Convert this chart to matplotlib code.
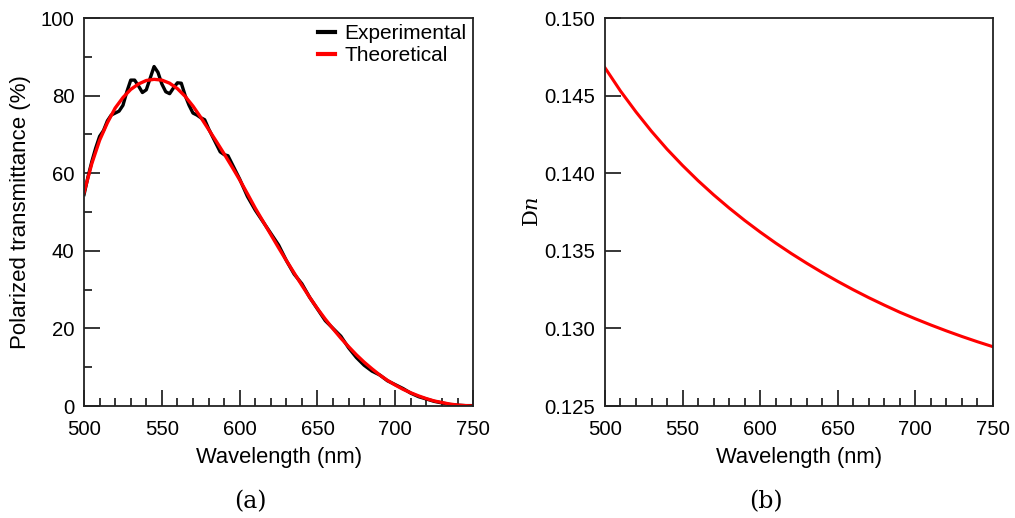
import matplotlib.pyplot as plt
import numpy as np
from matplotlib.ticker import MultipleLocator

plt.rcParams['font.family'] = ['Liberation Sans', 'DejaVu Sans']
plt.rcParams['mathtext.fontset'] = 'dejavuserif'

# experimental polarized transmittance (%)
exp_wl = [500, 502.5, 505, 507.5, 510, 512.5, 515, 517.5, 520, 522.5, 525, 527.5,
          530, 532.5, 535, 537.5, 540, 542.5, 545, 547.5, 550, 552.5, 555, 557.5,
          560, 562.5, 565, 567.5, 570, 572.5, 575, 577.5, 580, 582.5, 585, 587.5,
          590, 592.5, 595, 597.5, 600,
          605, 610, 615, 620, 625, 630, 635, 640, 645, 650, 655, 660, 665, 670,
          675, 680, 685, 690, 695, 700, 705, 710, 715, 720, 725, 730, 735, 740,
          745, 750]
exp_t = [54.5, 59, 63, 66.5, 69.5, 71, 73.5, 75, 75.5, 76, 77.5, 81,
         84, 84, 82.5, 80.8, 81.5, 84.5, 87.5, 86, 83, 81, 80.5, 82,
         83.3, 83.2, 80, 77.5, 75.5, 75, 74.3, 73.8, 71.5, 69.5, 67.5, 65.5,
         64.8, 64.5, 62.5, 60.5, 58.5,
         54, 50.5, 47.5, 44.5, 41.5, 37.5, 34, 31.5, 28, 25, 22, 20, 18, 15,
         12.5, 10.5, 9, 8, 6.5, 5.5, 4.5, 3.3, 2.4, 1.8, 1.2, 0.8, 0.4, 0.2,
         0.1, 0.1]

# theoretical transmittance (%)
th_wl = list(range(500, 755, 5))
th_t = [55.0, 62.5, 68.5, 73.0, 76.8, 79.5, 81.6, 83.0, 83.9, 84.2, 84.0,
        83.2, 81.8, 79.8, 77.3, 74.4, 71.3, 68.2, 65.0, 61.7, 58.3,
        54.7, 51.0, 47.6, 44.2, 40.8, 37.5, 34.3, 31.1, 28.0, 25.1,
        22.4, 19.9, 17.5, 15.3, 13.2, 11.3, 9.6, 8.0, 6.6, 5.4,
        4.3, 3.4, 2.6, 1.9, 1.3, 0.9, 0.5, 0.25, 0.1, 0.0]

# birefringence
dn_wl = list(range(500, 760, 10))
dn = [0.14680, 0.14530, 0.14395, 0.14270, 0.14155, 0.14050, 0.13952, 0.13861,
      0.13776, 0.13696, 0.13621, 0.13550, 0.13483, 0.13420, 0.13360, 0.13303,
      0.13249, 0.13198, 0.13150, 0.13104, 0.13062, 0.13022, 0.12984, 0.12948,
      0.12914, 0.12882]

fig = plt.figure(figsize=(10.15, 5.18), dpi=100)
ax1 = fig.add_axes([0.0828, 0.2162, 0.3833, 0.749])
ax2 = fig.add_axes([0.596, 0.2162, 0.3823, 0.749])

ax1.plot(exp_wl, exp_t, color='black', lw=2.4, label='Experimental')
ax1.plot(th_wl, th_t, color='red', lw=2.4, label='Theoretical')
ax1.set_xlim(500, 750)
ax1.set_ylim(0, 100)
ax1.yaxis.set_major_locator(MultipleLocator(20))
ax1.yaxis.set_minor_locator(MultipleLocator(10))
ax1.set_ylabel('Polarized transmittance (%)', fontsize=16, labelpad=7)
leg = ax1.legend(loc='upper right', frameon=False, fontsize=15, handlelength=0.85,
                 handletextpad=0.45, borderaxespad=0.0, borderpad=0.3,
                 labelspacing=0.15)
for h in leg.legend_handles:
    h.set_linewidth(3)

ax2.plot(dn_wl, dn, color='red', lw=2.2)
ax2.set_xlim(500, 750)
ax2.set_ylim(0.125, 0.150)
ax2.yaxis.set_major_locator(MultipleLocator(0.005))
ax2.yaxis.set_major_formatter(plt.FormatStrFormatter('%.3f'))
ax2.set_ylabel(r'D$\mathit{n}$', fontsize=15, family='DejaVu Serif', labelpad=2)

for ax in (ax1, ax2):
    ax.xaxis.set_major_locator(MultipleLocator(50))
    ax.xaxis.set_minor_locator(MultipleLocator(10))
    ax.set_xlabel('Wavelength (nm)', fontsize=15.8, labelpad=6)
    ax.tick_params(which='major', direction='in', length=11.5, width=1.1,
                   labelsize=14.7, pad=10, top=False, right=False)
    ax.tick_params(which='minor', direction='in', length=6, width=1.1,
                   top=False, right=False)
    ax.tick_params(axis='y', pad=7)
    for s in ax.spines.values():
        s.set_linewidth(1.3)
        s.set_color('#222222')

fig.text(0.247, 0.031, '(a)', fontsize=17, family='DejaVu Serif', ha='center', va='center')
fig.text(0.755, 0.031, '(b)', fontsize=17, family='DejaVu Serif', ha='center', va='center')

fig.savefig('out.png', dpi=100)
